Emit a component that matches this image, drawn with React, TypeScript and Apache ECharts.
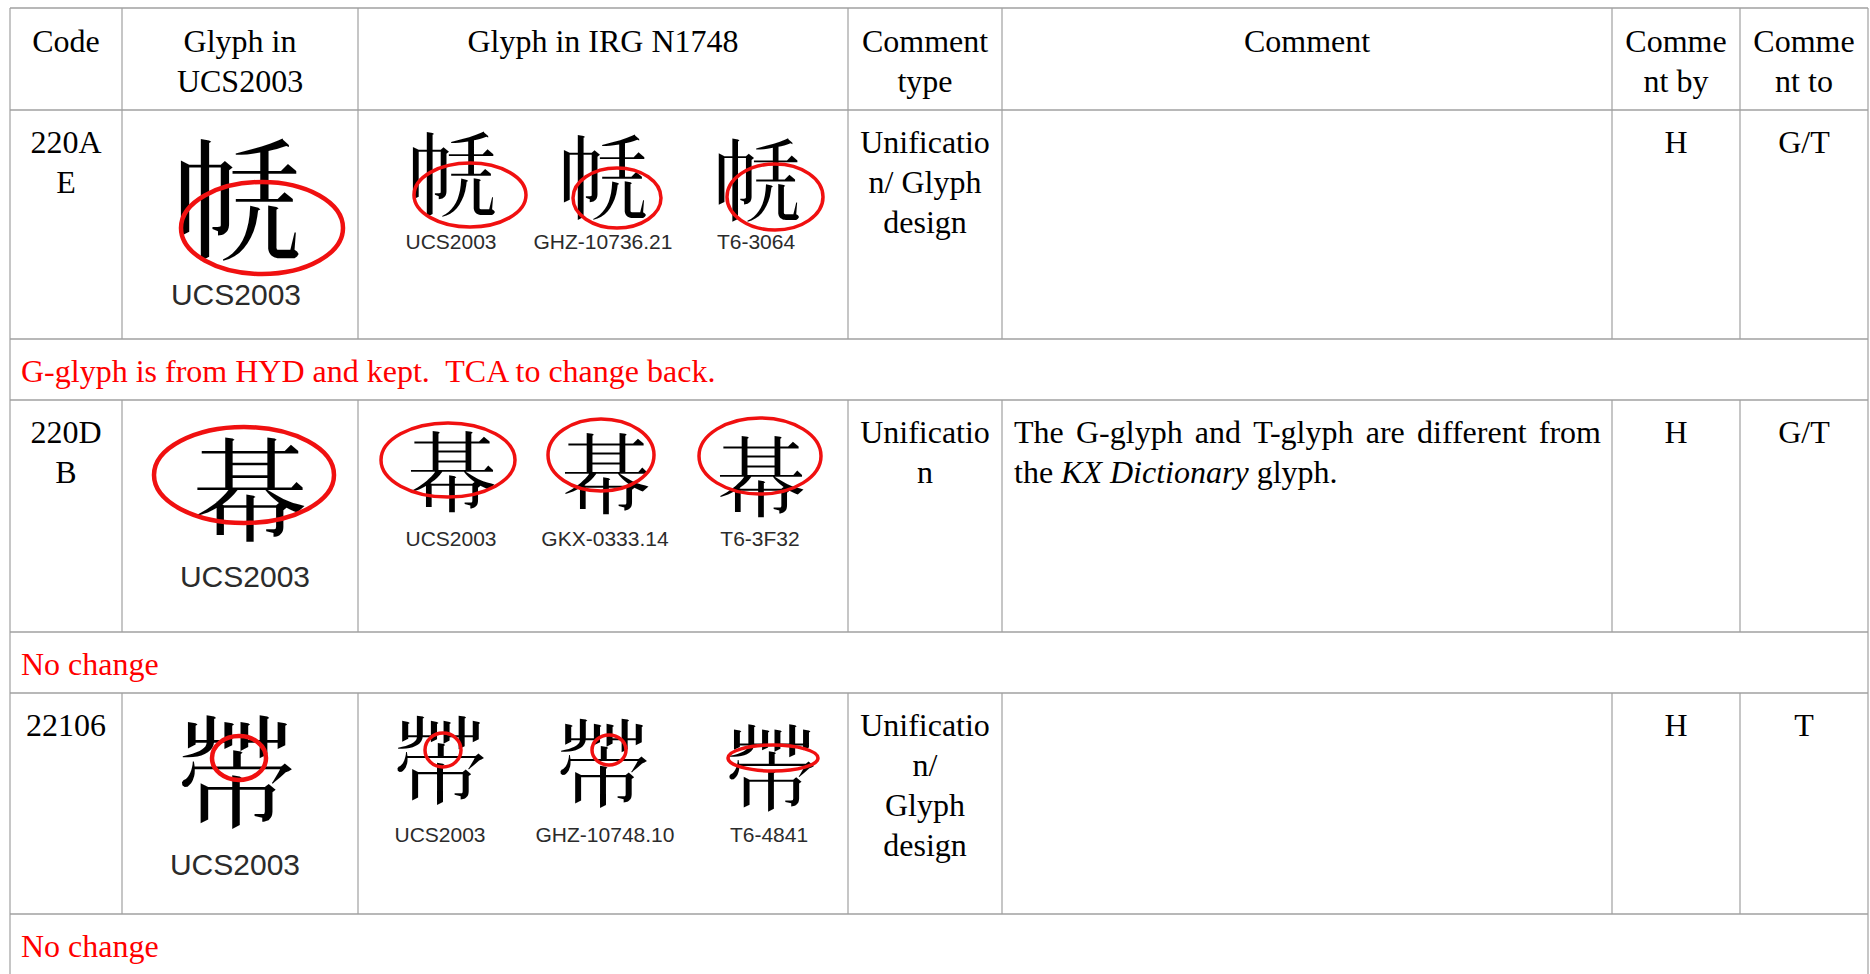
import React, { useEffect, useRef } from "react";
import * as echarts from "echarts";

// ---------- data ----------
const headers = ["Code", "Glyph in\nUCS2003", "Glyph in IRG N1748", "Comment\ntype", "Comment", "Comme\nnt by", "Comme\nnt to"];
const codes = ["220A\nE", "220D\nB", "22106"];
const glyphCodePoints = [0x220ae, 0x220db, 0x22106];
const ucsLabel = "UCS2003";
const irgSources = [
  ["UCS2003", "GHZ-10736.21", "T6-3064"],
  ["UCS2003", "GKX-0333.14", "T6-3F32"],
  ["UCS2003", "GHZ-10748.10", "T6-4841"],
];
const commentTypes = ["Unificatio\nn/ Glyph\ndesign", "Unificatio\nn", "Unificatio\nn/\nGlyph\ndesign"];
const commentLine1 = ["", "The G-glyph and T-glyph are different from", ""];
const commentLine2 = [[], ["the ", "KX Dictionary", " glyph."], []];
const commentLine2Italic = [[], [false, true, false], []];
const commentBy = ["H", "H", "H"];
const commentTo = ["G/T", "G/T", "T"];
const notes = ["G-glyph is from HYD and kept.  TCA to change back.", "No change", "No change"];

// ---------- layout (positions / sizes only) ----------
const colX = [10, 122, 358, 848, 1002, 1612, 1740, 1868];
const headerTop = 8;
const rowTops = [110, 400, 693];
const rowBottoms = [339, 632, 914];
const FS = 32;
const LH = 40;
const SERIF = "'Liberation Serif', 'Times New Roman', Times, serif";
const SANS = "'Liberation Sans', Arial, Helvetica, sans-serif";
const CJK = "'Noto Sans CJK TC', 'Noto Sans CJK SC', 'Noto Sans CJK JP', sans-serif";
const RED = "#ff0000";
const GRID = "#a0a0a0";

// glyph image layout per row: [big, small1, small2, small3] -> [cx, cy, fontSize]
const glyphPos = [
  [[237, 193, 132], [452, 169, 92], [603, 172, 92], [757, 176, 90]],
  [[250, 483, 118], [452, 466, 92], [606, 468, 92], [761, 471, 92]],
  [[236, 766, 122], [440, 756, 96], [603, 759, 96], [771, 764, 94]],
];
const ellipsePos = [
  [[262, 228, 81, 46, 4.5], [470, 195, 56, 32, 3.5], [617, 198, 44, 30, 3.5], [775, 197, 48, 33, 3.5]],
  [[244, 475, 90, 48, 4.5], [448, 460, 67, 37, 3.5], [601, 455, 53, 36, 3.5], [760, 456, 61, 38, 3.5]],
  [[239, 758, 27, 22, 4.5], [443, 750, 18, 17, 3.5], [609, 750, 17, 15, 3.5], [773, 758, 45, 13, 3.5]],
];
const labelPos = [
  [[236, 305, 30], [451, 249, 21], [603, 249, 21], [756, 249, 21]],
  [[245, 587, 30], [451, 546, 21], [605, 546, 21], [760, 546, 21]],
  [[235, 875, 30], [440, 842, 21], [605, 842, 21], [769, 842, 21]],
];

let measureCtx: CanvasRenderingContext2D | null = null;
function measure(text: string, font: string): number {
  if (!measureCtx) measureCtx = document.createElement("canvas").getContext("2d");
  if (!measureCtx) return text.length * 14;
  measureCtx.font = font;
  return measureCtx.measureText(text).width;
}

// serif text whose first baseline is at `baseline`
function serifText(text: string, x: number, baseline: number, align: string, fill = "#000", italic = false) {
  const top = baseline - 0.3375 * FS - LH / 2;
  return {
    type: "text",
    silent: true,
    style: {
      text,
      x,
      y: top,
      fill,
      fontFamily: SERIF,
      fontSize: FS,
      fontStyle: italic ? "italic" : "normal",
      lineHeight: LH,
      align,
      verticalAlign: "top",
    },
  };
}

function buildGraphics() {
  const els: any[] = [];
  const xL = colX[0];
  const xR = colX[colX.length - 1];
  // horizontal lines
  const hLines = [headerTop, ...rowTops, ...rowBottoms];
  hLines.forEach((y) => {
    els.push({ type: "line", silent: true, shape: { x1: xL, y1: y, x2: xR, y2: y }, style: { stroke: GRID, lineWidth: 1.5 } });
  });
  // outer verticals
  [xL, xR].forEach((x) => {
    els.push({ type: "line", silent: true, shape: { x1: x, y1: headerTop, x2: x, y2: 1000 }, style: { stroke: GRID, lineWidth: 1.2 } });
  });
  // inner verticals: header + data rows
  const segs: [number, number][] = [[headerTop, rowTops[0]], ...rowTops.map((t, i) => [t, rowBottoms[i]] as [number, number])];
  for (let c = 1; c < colX.length - 1; c++) {
    segs.forEach(([a, b]) => {
      els.push({ type: "line", silent: true, shape: { x1: colX[c], y1: a, x2: colX[c], y2: b }, style: { stroke: GRID, lineWidth: 1.2 } });
    });
  }
  // header
  headers.forEach((h, c) => {
    const cx = (colX[c] + colX[c + 1]) / 2;
    els.push(serifText(h, cx, headerTop + 44, "center"));
  });
  // rows
  rowTops.forEach((top, r) => {
    const bl = top + 43;
    const ctr = (c: number) => (colX[c] + colX[c + 1]) / 2;
    els.push(serifText(codes[r], ctr(0), bl, "center"));
    els.push(serifText(commentTypes[r], ctr(3), bl, "center"));
    els.push(serifText(commentBy[r], ctr(5), bl, "center"));
    els.push(serifText(commentTo[r], ctr(6), bl, "center"));

    // comment, justified first line
    if (commentLine1[r]) {
      const x0 = colX[4] + 12;
      const x1 = colX[5] - 11;
      const font = `${FS}px ${SERIF}`;
      const words = commentLine1[r].split(" ");
      const widths = words.map((w) => measure(w, font));
      const total = widths.reduce((a, b) => a + b, 0);
      const gap = (x1 - x0 - total) / (words.length - 1);
      let x = x0;
      words.forEach((w, i) => {
        els.push(serifText(w, x, bl, "left"));
        x += widths[i] + gap;
      });
      let x2 = x0;
      commentLine2[r].forEach((seg, i) => {
        const it = commentLine2Italic[r][i];
        els.push(serifText(seg, x2, bl + LH, "left", "#000", it));
        x2 += measure(seg, `${it ? "italic " : ""}${FS}px ${SERIF}`);
      });
    }

    // glyph images
    const ch = String.fromCodePoint(glyphCodePoints[r]);
    glyphPos[r].forEach(([gx, gy, gs]) => {
      els.push({
        type: "text",
        silent: true,
        style: {
          text: ch,
          x: gx,
          y: gy,
          fill: "#000",
          fontFamily: CJK,
          fontSize: gs,
          lineHeight: Math.round(gs * 0.8),
          align: "center",
          verticalAlign: "middle",
        },
      });
    });
    ellipsePos[r].forEach(([ex, ey, rx, ry, lw]) => {
      els.push({
        type: "ellipse",
        silent: true,
        shape: { cx: ex, cy: ey, rx, ry },
        style: { fill: "none", stroke: "#f01010", lineWidth: lw },
      });
    });
    const labels = [ucsLabel, ...irgSources[r]];
    labelPos[r].forEach(([lx, lb, ls], i) => {
      els.push({
        type: "text",
        silent: true,
        style: {
          text: labels[i],
          x: lx,
          y: lb - 0.3465 * ls,
          fill: "#2b2b2b",
          fontFamily: SANS,
          fontSize: ls,
          lineHeight: ls,
          align: "center",
          verticalAlign: "middle",
        },
      });
    });

    // note row
    els.push(serifText(notes[r], colX[0] + 11, rowBottoms[r] + 43, "left", RED));
  });
  return els;
}

export default function App() {
  const ref = useRef<HTMLDivElement>(null);
  useEffect(() => {
    if (!ref.current) return;
    const chart = echarts.init(ref.current, null, { renderer: "svg" });
    chart.setOption({
      animation: false,
      backgroundColor: "#ffffff",
      graphic: { elements: buildGraphics() },
    });
    return () => chart.dispose();
  }, []);
  return <div ref={ref} style={{ position: "fixed", left: 0, top: 0, width: 1870, height: 974, background: "#fff" }} />;
}
